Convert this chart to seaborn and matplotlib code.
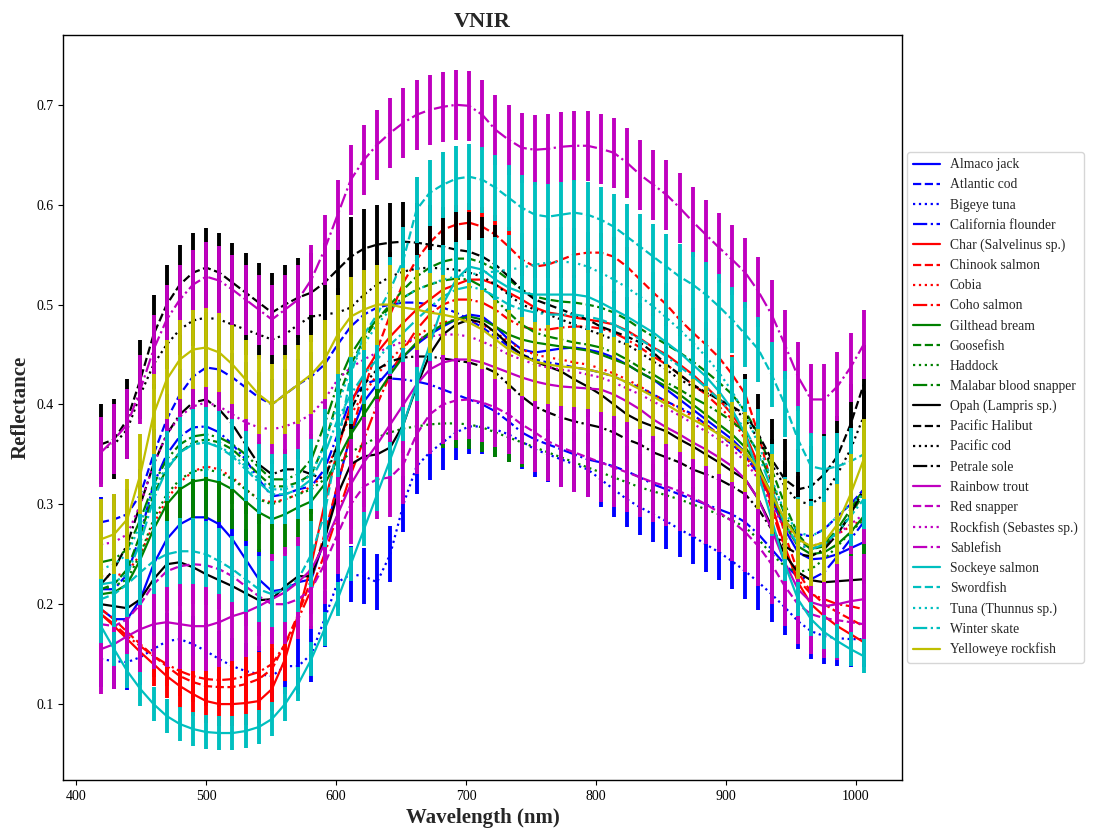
import numpy as np
import matplotlib
matplotlib.use("Agg")
import matplotlib.pyplot as plt
import seaborn as sns

# Spectral bands of the VNIR camera (nm)
wavelength = np.linspace(419, 1006, 59)

species = [
    "Almaco jack", "Atlantic cod", "Bigeye tuna", "California flounder",
    "Char (Salvelinus sp.)", "Chinook salmon", "Cobia", "Coho salmon",
    "Gilthead bream", "Goosefish", "Haddock", "Malabar blood snapper",
    "Opah (Lampris sp.)", "Pacific Halibut", "Pacific cod", "Petrale sole",
    "Rainbow trout", "Red snapper", "Rockfish (Sebastes sp.)", "Sablefish",
    "Sockeye salmon", "Swordfish", "Tuna (Thunnus sp.)", "Winter skate",
    "Yelloweye rockfish",
]

# Mean reflectance spectra
almaco_jack = [0.195,0.185,0.185,0.205,0.24,0.265,0.28,0.287,0.287,0.28,0.265,0.245,0.225,0.213,0.215,0.222,0.225,0.265,0.32,0.37,0.403,0.42,0.435,0.448,0.46,0.47,0.478,0.485,0.49,0.488,0.478,0.465,0.455,0.452,0.454,0.456,0.457,0.455,0.452,0.447,0.44,0.432,0.425,0.415,0.405,0.395,0.385,0.375,0.365,0.352,0.333,0.305,0.275,0.252,0.245,0.246,0.25,0.256,0.262]
atlantic_cod = [0.282,0.285,0.29,0.31,0.35,0.385,0.41,0.428,0.437,0.435,0.427,0.417,0.407,0.4,0.41,0.42,0.428,0.44,0.46,0.478,0.49,0.497,0.5,0.502,0.502,0.5,0.497,0.492,0.485,0.477,0.468,0.458,0.45,0.445,0.442,0.44,0.437,0.435,0.432,0.428,0.422,0.417,0.41,0.403,0.397,0.39,0.38,0.37,0.36,0.348,0.33,0.305,0.283,0.27,0.268,0.275,0.288,0.3,0.315]
bigeye_tuna = [0.145,0.143,0.142,0.147,0.155,0.163,0.165,0.16,0.153,0.145,0.138,0.133,0.13,0.128,0.138,0.138,0.15,0.185,0.222,0.23,0.228,0.222,0.25,0.3,0.338,0.352,0.362,0.372,0.378,0.378,0.375,0.37,0.363,0.355,0.35,0.345,0.34,0.335,0.325,0.315,0.305,0.297,0.29,0.283,0.275,0.268,0.26,0.252,0.243,0.233,0.222,0.21,0.197,0.183,0.173,0.168,0.166,0.165,0.165]
california_flounder = [0.215,0.215,0.23,0.27,0.32,0.35,0.368,0.377,0.378,0.372,0.36,0.345,0.325,0.308,0.31,0.315,0.318,0.335,0.37,0.405,0.42,0.425,0.426,0.425,0.423,0.42,0.415,0.41,0.405,0.4,0.393,0.383,0.372,0.365,0.36,0.355,0.35,0.345,0.342,0.338,0.333,0.327,0.32,0.315,0.31,0.305,0.3,0.295,0.29,0.282,0.27,0.255,0.24,0.227,0.225,0.232,0.248,0.265,0.282]
char = [0.19,0.178,0.165,0.152,0.14,0.128,0.118,0.11,0.103,0.1,0.1,0.101,0.103,0.115,0.145,0.19,0.24,0.3,0.355,0.4,0.43,0.452,0.468,0.482,0.495,0.505,0.515,0.52,0.525,0.525,0.52,0.512,0.505,0.497,0.492,0.49,0.487,0.485,0.483,0.48,0.474,0.466,0.457,0.45,0.44,0.43,0.418,0.405,0.39,0.37,0.34,0.3,0.258,0.222,0.2,0.188,0.178,0.17,0.162]
chinook_salmon = [0.195,0.185,0.172,0.16,0.148,0.138,0.128,0.122,0.118,0.117,0.117,0.12,0.125,0.135,0.16,0.19,0.225,0.27,0.32,0.37,0.415,0.455,0.49,0.522,0.545,0.562,0.575,0.58,0.582,0.578,0.57,0.558,0.545,0.538,0.54,0.545,0.55,0.552,0.552,0.548,0.538,0.525,0.512,0.5,0.485,0.472,0.46,0.447,0.43,0.41,0.37,0.32,0.27,0.232,0.212,0.2,0.192,0.185,0.178]
cobia = [0.228,0.228,0.232,0.25,0.28,0.305,0.322,0.333,0.338,0.335,0.327,0.315,0.305,0.302,0.305,0.31,0.318,0.33,0.36,0.39,0.41,0.43,0.445,0.458,0.468,0.477,0.482,0.485,0.485,0.48,0.472,0.463,0.455,0.45,0.447,0.445,0.442,0.44,0.436,0.431,0.425,0.418,0.41,0.403,0.396,0.388,0.38,0.37,0.36,0.348,0.33,0.305,0.28,0.265,0.258,0.262,0.27,0.278,0.285]
coho_salmon = [0.19,0.18,0.168,0.158,0.148,0.14,0.133,0.128,0.125,0.124,0.125,0.128,0.132,0.14,0.16,0.185,0.215,0.25,0.29,0.33,0.365,0.4,0.43,0.455,0.475,0.49,0.5,0.505,0.505,0.502,0.495,0.485,0.478,0.475,0.475,0.477,0.478,0.478,0.476,0.472,0.465,0.457,0.448,0.44,0.43,0.42,0.41,0.398,0.385,0.365,0.335,0.295,0.255,0.225,0.21,0.205,0.2,0.198,0.195]
gilthead_bream = [0.21,0.212,0.22,0.245,0.275,0.3,0.315,0.323,0.325,0.322,0.315,0.303,0.292,0.285,0.29,0.297,0.303,0.32,0.345,0.37,0.39,0.41,0.43,0.448,0.462,0.472,0.48,0.485,0.488,0.485,0.478,0.47,0.465,0.462,0.46,0.458,0.456,0.454,0.45,0.445,0.44,0.432,0.425,0.418,0.41,0.4,0.39,0.38,0.37,0.357,0.338,0.31,0.28,0.258,0.25,0.252,0.26,0.272,0.288]
goosefish = [0.215,0.22,0.235,0.27,0.31,0.335,0.352,0.362,0.365,0.362,0.355,0.343,0.33,0.318,0.318,0.322,0.33,0.36,0.405,0.44,0.465,0.485,0.5,0.515,0.528,0.537,0.543,0.546,0.546,0.542,0.535,0.525,0.515,0.508,0.505,0.503,0.502,0.5,0.497,0.492,0.485,0.476,0.468,0.46,0.452,0.443,0.433,0.422,0.41,0.393,0.37,0.335,0.3,0.27,0.255,0.258,0.27,0.29,0.31]
haddock = [0.215,0.218,0.225,0.25,0.285,0.31,0.325,0.333,0.335,0.332,0.325,0.315,0.305,0.3,0.305,0.31,0.315,0.325,0.34,0.352,0.36,0.367,0.372,0.376,0.378,0.38,0.381,0.381,0.38,0.377,0.372,0.367,0.362,0.357,0.352,0.347,0.342,0.337,0.332,0.327,0.322,0.317,0.313,0.309,0.305,0.3,0.295,0.29,0.284,0.277,0.265,0.25,0.238,0.232,0.235,0.245,0.258,0.272,0.285]
malabar_blood_snapper = [0.242,0.245,0.255,0.285,0.32,0.345,0.36,0.368,0.37,0.367,0.36,0.35,0.337,0.325,0.325,0.33,0.345,0.38,0.42,0.45,0.47,0.485,0.497,0.507,0.515,0.52,0.524,0.526,0.525,0.518,0.505,0.492,0.48,0.472,0.468,0.465,0.462,0.46,0.457,0.452,0.445,0.437,0.43,0.422,0.415,0.407,0.4,0.392,0.383,0.372,0.352,0.323,0.29,0.265,0.255,0.26,0.275,0.295,0.315]
opah = [0.20,0.198,0.196,0.205,0.225,0.24,0.242,0.237,0.23,0.224,0.218,0.211,0.204,0.205,0.218,0.228,0.228,0.265,0.31,0.34,0.348,0.35,0.357,0.38,0.418,0.45,0.47,0.48,0.485,0.482,0.472,0.46,0.45,0.443,0.438,0.433,0.425,0.418,0.41,0.4,0.39,0.383,0.378,0.373,0.365,0.358,0.35,0.342,0.333,0.325,0.305,0.278,0.25,0.232,0.224,0.222,0.223,0.224,0.225]
pacific_halibut = [0.36,0.365,0.385,0.425,0.47,0.5,0.52,0.532,0.537,0.532,0.522,0.512,0.502,0.492,0.5,0.507,0.512,0.522,0.535,0.548,0.556,0.56,0.562,0.563,0.562,0.56,0.558,0.555,0.553,0.548,0.54,0.528,0.515,0.505,0.5,0.495,0.49,0.485,0.478,0.473,0.468,0.462,0.452,0.44,0.43,0.42,0.412,0.405,0.398,0.39,0.37,0.345,0.325,0.315,0.318,0.33,0.348,0.38,0.42]
pacific_cod = [0.355,0.36,0.375,0.41,0.44,0.46,0.475,0.484,0.487,0.485,0.48,0.475,0.47,0.465,0.47,0.48,0.488,0.49,0.492,0.497,0.51,0.52,0.528,0.533,0.536,0.537,0.536,0.535,0.532,0.528,0.52,0.51,0.5,0.495,0.49,0.485,0.48,0.475,0.47,0.465,0.46,0.452,0.443,0.435,0.425,0.418,0.412,0.405,0.398,0.385,0.365,0.34,0.318,0.303,0.3,0.31,0.33,0.355,0.388]
petrale_sole = [0.22,0.235,0.26,0.3,0.34,0.37,0.39,0.402,0.405,0.395,0.38,0.36,0.34,0.33,0.335,0.335,0.33,0.325,0.36,0.395,0.42,0.435,0.443,0.447,0.448,0.448,0.446,0.444,0.442,0.438,0.432,0.42,0.408,0.398,0.392,0.387,0.383,0.38,0.377,0.372,0.365,0.36,0.352,0.347,0.342,0.335,0.33,0.325,0.318,0.31,0.295,0.275,0.258,0.25,0.248,0.255,0.27,0.29,0.315]
rainbow_trout = [0.155,0.16,0.168,0.175,0.18,0.182,0.18,0.178,0.178,0.182,0.188,0.192,0.198,0.205,0.212,0.222,0.235,0.26,0.29,0.32,0.342,0.36,0.38,0.4,0.42,0.435,0.442,0.445,0.445,0.442,0.437,0.432,0.427,0.423,0.42,0.418,0.417,0.416,0.415,0.41,0.403,0.395,0.385,0.377,0.37,0.362,0.355,0.347,0.338,0.325,0.305,0.275,0.242,0.215,0.202,0.198,0.2,0.203,0.205]
red_snapper = [0.18,0.178,0.185,0.2,0.22,0.233,0.238,0.24,0.239,0.235,0.228,0.218,0.208,0.2,0.2,0.205,0.215,0.24,0.27,0.3,0.318,0.325,0.327,0.34,0.37,0.39,0.4,0.404,0.405,0.402,0.397,0.39,0.38,0.372,0.363,0.357,0.352,0.347,0.342,0.337,0.332,0.327,0.322,0.318,0.313,0.307,0.3,0.292,0.283,0.272,0.258,0.24,0.218,0.2,0.19,0.186,0.184,0.182,0.18]
rockfish = [0.26,0.262,0.27,0.3,0.34,0.37,0.388,0.398,0.402,0.398,0.39,0.382,0.377,0.375,0.378,0.383,0.39,0.405,0.425,0.437,0.445,0.452,0.458,0.463,0.466,0.468,0.47,0.47,0.468,0.463,0.457,0.45,0.445,0.44,0.437,0.435,0.433,0.43,0.427,0.422,0.416,0.41,0.403,0.396,0.389,0.381,0.373,0.365,0.355,0.343,0.325,0.3,0.275,0.26,0.255,0.26,0.27,0.28,0.29]
sablefish = [0.352,0.365,0.38,0.415,0.455,0.485,0.505,0.52,0.528,0.524,0.515,0.505,0.495,0.485,0.495,0.505,0.525,0.555,0.59,0.625,0.645,0.66,0.672,0.682,0.69,0.695,0.698,0.70,0.699,0.69,0.675,0.665,0.657,0.655,0.656,0.658,0.659,0.659,0.656,0.652,0.642,0.63,0.62,0.61,0.597,0.583,0.57,0.557,0.545,0.532,0.513,0.49,0.46,0.428,0.405,0.405,0.418,0.437,0.46]
sockeye_salmon = [0.178,0.155,0.133,0.115,0.1,0.088,0.08,0.075,0.072,0.071,0.071,0.073,0.077,0.085,0.1,0.12,0.145,0.175,0.205,0.24,0.275,0.31,0.345,0.38,0.42,0.46,0.5,0.525,0.538,0.535,0.525,0.517,0.512,0.51,0.51,0.51,0.51,0.508,0.502,0.495,0.488,0.48,0.472,0.462,0.452,0.44,0.428,0.413,0.395,0.37,0.33,0.285,0.24,0.205,0.185,0.172,0.163,0.155,0.148]
swordfish = [0.205,0.21,0.22,0.232,0.243,0.25,0.253,0.253,0.25,0.243,0.235,0.225,0.215,0.21,0.215,0.225,0.25,0.29,0.36,0.43,0.47,0.49,0.515,0.545,0.595,0.612,0.62,0.626,0.628,0.625,0.617,0.607,0.597,0.59,0.588,0.59,0.592,0.59,0.585,0.578,0.568,0.558,0.548,0.538,0.528,0.52,0.51,0.498,0.485,0.47,0.455,0.43,0.4,0.365,0.338,0.335,0.338,0.343,0.35]
tuna = [0.235,0.24,0.25,0.28,0.315,0.338,0.352,0.36,0.362,0.358,0.35,0.338,0.325,0.315,0.315,0.32,0.33,0.36,0.4,0.435,0.46,0.48,0.495,0.507,0.515,0.52,0.525,0.528,0.53,0.532,0.533,0.535,0.537,0.54,0.542,0.543,0.542,0.538,0.532,0.525,0.517,0.508,0.498,0.487,0.475,0.462,0.448,0.432,0.413,0.39,0.36,0.325,0.292,0.272,0.268,0.275,0.288,0.3,0.31]
winter_skate = [0.22,0.222,0.23,0.262,0.305,0.335,0.352,0.36,0.362,0.357,0.348,0.335,0.322,0.31,0.31,0.315,0.325,0.35,0.385,0.41,0.43,0.445,0.46,0.472,0.485,0.497,0.508,0.515,0.518,0.515,0.508,0.5,0.495,0.492,0.49,0.49,0.49,0.488,0.485,0.48,0.473,0.465,0.457,0.448,0.438,0.428,0.417,0.405,0.392,0.375,0.35,0.315,0.28,0.26,0.255,0.26,0.272,0.288,0.305]
yelloweye_rockfish = [0.265,0.27,0.285,0.33,0.39,0.425,0.445,0.455,0.457,0.452,0.44,0.425,0.41,0.4,0.41,0.42,0.43,0.445,0.47,0.488,0.495,0.5,0.5,0.497,0.495,0.492,0.49,0.487,0.482,0.475,0.465,0.455,0.448,0.443,0.44,0.438,0.437,0.435,0.432,0.428,0.422,0.415,0.408,0.4,0.392,0.385,0.378,0.37,0.362,0.352,0.335,0.31,0.285,0.265,0.258,0.262,0.28,0.31,0.345]

# Standard deviation of each species' reflectance
reflectance_sd = [0.03, 0.025, 0.028, 0.025, 0.022, 0.02, 0.02, 0.02,
                  0.04, 0.022, 0.025, 0.025, 0.02, 0.04, 0.025, 0.02,
                  0.045, 0.04, 0.03, 0.035, 0.017, 0.033, 0.035, 0.03, 0.04]

mean_spectra = [almaco_jack, atlantic_cod, bigeye_tuna, california_flounder,
                char, chinook_salmon, cobia, coho_salmon,
                gilthead_bream, goosefish, haddock, malabar_blood_snapper,
                opah, pacific_halibut, pacific_cod, petrale_sole,
                rainbow_trout, red_snapper, rockfish, sablefish,
                sockeye_salmon, swordfish, tuna, winter_skate,
                yelloweye_rockfish]

line_colors = ["b"] * 4 + ["r"] * 4 + ["g"] * 4 + ["k"] * 4 + ["m"] * 4 + ["c"] * 4 + ["y"]
line_styles = ["-", "--", ":", "-."] * 6 + ["-"]

sns.set_style("ticks")
plt.rcParams["font.family"] = ["Liberation Serif", "DejaVu Serif"]
plt.rcParams["axes.edgecolor"] = "black"
plt.rcParams["xtick.color"] = "black"
plt.rcParams["ytick.color"] = "black"

fig, ax = plt.subplots(figsize=(10.94, 8.31), dpi=100)
fig.subplots_adjust(left=0.0576, right=0.8245, bottom=0.0614, top=0.958)

for name, mean, sd, col, ls in zip(species, mean_spectra, reflectance_sd,
                                   line_colors, line_styles):
    ax.errorbar(wavelength, mean, yerr=sd, fmt="none", ecolor=col,
                elinewidth=2.8, capsize=0, label="_nolegend_")
    sns.lineplot(x=wavelength, y=mean, color=col, linestyle=ls,
                 linewidth=1.6, label=name, ax=ax)

ax.set_xlim(389.8, 1035.5)
ax.set_ylim(0.024, 0.77)
ax.set_xticks([400, 500, 600, 700, 800, 900, 1000])
ax.set_yticks([0.1, 0.2, 0.3, 0.4, 0.5, 0.6, 0.7])
ax.tick_params(labelsize=10)
for side in ax.spines.values():
    side.set_visible(True)
    side.set_linewidth(1.0)

ax.set_title("VNIR", fontsize=16, fontweight="bold")
ax.set_xlabel("Wavelength (nm)", fontsize=15, fontweight="bold")
ax.set_ylabel("Reflectance", fontsize=15, fontweight="bold")

ax.legend(loc="center left", bbox_to_anchor=(1.006, 0.5), fontsize=9.8,
          labelspacing=0.52, frameon=True, handlelength=2.0,
          handletextpad=0.7, borderpad=0.45, borderaxespad=0.0)

fig.savefig("out.png", dpi=100)
